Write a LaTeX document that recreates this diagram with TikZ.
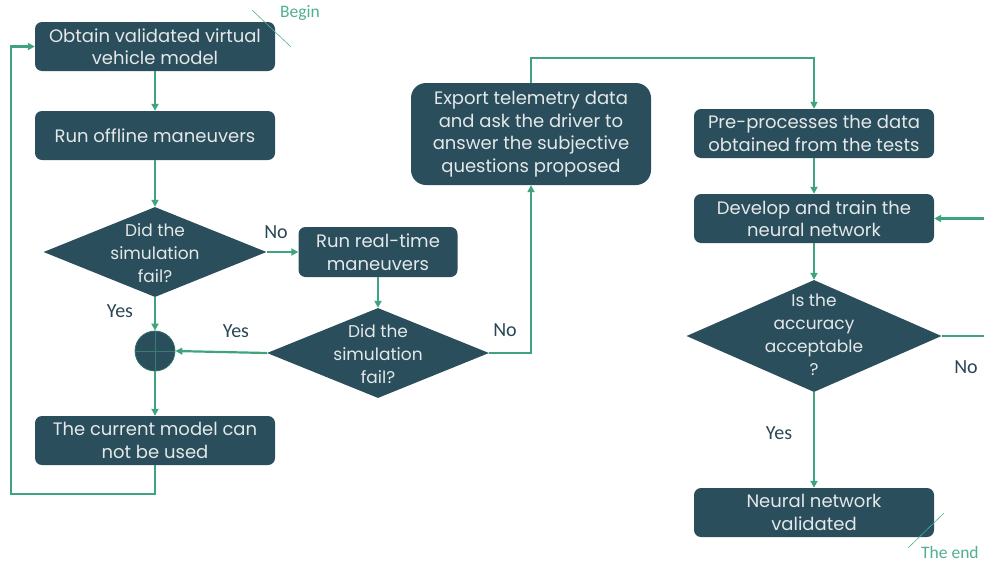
\documentclass[tikz,border=0pt]{standalone}
\usepackage{fontspec}
\setmainfont{Poppins}
\newfontfamily\lblfont{Carlito}
\usetikzlibrary{shapes.geometric,arrows.meta}
\definecolor{boxc}{RGB}{42,78,92}
\definecolor{arrc}{RGB}{63,163,126}
\definecolor{txtc}{RGB}{228,232,233}
\definecolor{lblc}{RGB}{40,70,84}
\definecolor{tagc}{RGB}{80,175,140}
\begin{document}
\begin{tikzpicture}[x=1pt,y=-1pt,
 box/.style={draw=none, fill=boxc, rounded corners=7pt, text=txtc, align=center,
   font=\fontsize{18}{22.5}\selectfont, inner sep=0pt, minimum width=240pt, minimum height=49pt},
 dia/.style={diamond, fill=boxc, inner sep=0pt},
 dtxt/.style={text=txtc, align=center, font=\fontsize{17}{23}\selectfont, inner sep=0pt},
 arr/.style={draw=arrc, line width=2.2pt, -{Triangle[length=7pt,width=7pt]}},
 ln/.style={draw=arrc, line width=2.2pt},
 lbl/.style={text=lblc, font=\lblfont\fontsize{20}{24}\selectfont, inner sep=0pt},
 tag/.style={text=tagc, font=\lblfont\fontsize{17.5}{20}\selectfont, inner sep=0pt},
 tagline/.style={draw=tagc, line width=0.6pt}
]
\useasboundingbox (0,0) rectangle (984,562);

% left column
\node[box] (obtain) at (155,46.5) {Obtain validated virtual\\vehicle model};
\node[box] (offline) at (155,135.5) {Run offline maneuvers};
\node[dia, minimum width=223pt, minimum height=90pt] (d1) at (155,252) {};
\node[dtxt] (d1t) at (155,253) {Did the\\simulation\\fail?};
\node[box, minimum width=159pt, minimum height=50pt] (rt) at (378,252) {Run real-time\\maneuvers};
\node[dia, minimum width=222pt, minimum height=90pt] (d2) at (378,353) {};
\node[dtxt] (d2t) at (378,354) {Did the\\simulation\\fail?};
\node[circle, fill=boxc, draw=arrc!45!boxc, line width=0.8pt, minimum size=40pt, inner sep=0pt] (sum) at (155,351) {};
\draw[arrc!55!boxc, line width=0.8pt] (sum.north) -- (sum.south) (sum.west) -- (sum.east);
\node[box] (cur) at (155,440.5) {The current model can\\not be used};

% middle
\node[box, rounded corners=15pt, minimum height=102pt] (export) at (531,134) {Export telemetry data\\and ask the driver to\\answer the subjective\\questions proposed};

% right column
\node[box] (pre) at (814,133.5) {Pre-processes the data\\obtained from the tests};
\node[box] (dev) at (814,218.5) {Develop and train the\\neural network};
\node[dia, minimum width=255pt, minimum height=112pt] (d3) at (814,336) {};
\node[dtxt] (d3t) at (814,334.5) {Is the\\accuracy\\acceptable\\?};
\node[box] (nnv) at (814,512.5) {Neural network\\validated};

% connectors
\draw[arr] (obtain) -- (offline);
\draw[arr] (offline) -- (d1.north);
\draw[arr] (d1.east) -- (rt.west);
\draw[arr] (rt) -- (d2.north);
\draw[arr] (d1.south) -- (sum.north);
\draw[arr] (d2.west) -- (sum.east);
\draw[arr] (sum.south) -- (cur.north);
\coordinate (lp1) at (155,494);
\coordinate (lp2) at (11,494);
\draw[arr] (cur.south) -- (lp1) -- (lp2) |- (obtain.west);
\draw[arr] (d2.east) -| (export.south);
\coordinate (top) at (531,58);
\draw[arr] (export.north) -- (top) -| (pre.north);
\draw[arr] (pre) -- (dev);
\draw[arr] (dev) -- (d3.north);
\draw[arr] (d3.south) -- (nnv.north);
\coordinate (re1) at (984,336);
\coordinate (re2) at (984,218.5);
\draw[ln] (d3.east) -- (re1);
\draw[arr] (re2) -- (dev.east);

% labels
\node[lbl] (y1) at (120,311) {Yes};
\node[lbl] (n1) at (276,232) {No};
\node[lbl] (y2) at (236,331) {Yes};
\node[lbl] (n2) at (505,330) {No};
\node[lbl] (n3) at (966,367) {No};
\node[lbl] (y3) at (779,433) {Yes};

% begin / end tags
\coordinate (b1) at (252,10);
\coordinate (b2) at (291,47);
\draw[tagline] (b1) -- (b2);
\node[tag, anchor=west] (begin) at (280,13) {Begin};
\coordinate (e1) at (908,548);
\coordinate (e2) at (944,513);
\draw[tagline] (e1) -- (e2);
\node[tag, anchor=west] (theend) at (921,552) {The end};
\end{tikzpicture}
\end{document}
